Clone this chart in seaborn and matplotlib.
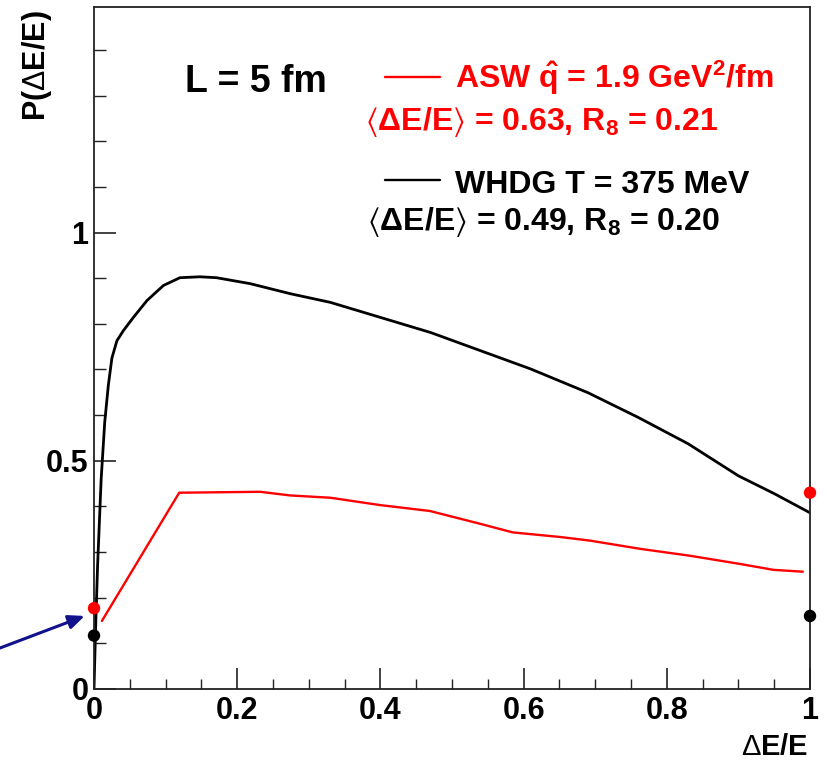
import matplotlib
matplotlib.use("Agg")
import matplotlib.pyplot as plt
import seaborn as sns
import pandas as pd
from matplotlib.ticker import MultipleLocator

# ---------------- data ----------------
whdg_x = [0.0, 0.002, 0.005, 0.01, 0.015, 0.02, 0.025, 0.032, 0.041, 0.055, 0.074,
          0.097, 0.12, 0.148, 0.171, 0.218, 0.274, 0.33, 0.40, 0.47, 0.54, 0.61,
          0.69, 0.76, 0.83, 0.90, 0.95, 1.0]
whdg_y = [0.0, 0.12, 0.27, 0.46, 0.585, 0.665, 0.725, 0.763, 0.785, 0.814, 0.851,
          0.884, 0.901, 0.903, 0.901, 0.888, 0.866, 0.847, 0.814, 0.781, 0.741, 0.701,
          0.649, 0.595, 0.537, 0.467, 0.428, 0.386]

asw_x = [0.011, 0.119, 0.232, 0.274, 0.330, 0.399, 0.469, 0.539, 0.585, 0.651,
         0.693, 0.763, 0.832, 0.902, 0.949, 0.990]
asw_y = [0.149, 0.430, 0.432, 0.424, 0.419, 0.403, 0.390, 0.362, 0.343, 0.333,
         0.325, 0.307, 0.292, 0.274, 0.261, 0.257]

dot_x = [0.0, 0.0, 1.0, 1.0]
dot_y = [0.177, 0.117, 0.430, 0.160]
dot_model = ["ASW", "WHDG", "ASW", "WHDG"]

x_ticks = [0, 0.2, 0.4, 0.6, 0.8, 1]
x_ticklabels = ["0", "0.2", "0.4", "0.6", "0.8", "1"]
y_ticks = [0, 0.5, 1]
y_ticklabels = ["0", "0.5", "1"]

colors = {"ASW": "#ff0000", "WHDG": "#000000"}

# ---------------- style ----------------
sns.set_theme(style="white")
plt.rcParams["font.family"] = ["Liberation Sans", "DejaVu Sans"]
plt.rcParams["text.color"] = "black"
plt.rcParams["mathtext.fontset"] = "custom"
plt.rcParams["mathtext.rm"] = "Liberation Sans:bold"
plt.rcParams["mathtext.it"] = "Liberation Sans:bold"
plt.rcParams["mathtext.bf"] = "Liberation Sans:bold"
plt.rcParams["mathtext.sf"] = "Liberation Sans"
plt.rcParams["mathtext.fallback"] = "stixsans"

fig = plt.figure(figsize=(8.27, 7.61), dpi=100)
ax = fig.add_axes([94 / 827, 1 - 689 / 761, 716 / 827, 682 / 761])

df_w = pd.DataFrame({"x": whdg_x, "y": whdg_y})
df_a = pd.DataFrame({"x": asw_x, "y": asw_y})
df_d = pd.DataFrame({"x": dot_x, "y": dot_y, "model": dot_model})

sns.lineplot(data=df_w, x="x", y="y", ax=ax, color="black", lw=2.0,
             sort=False, estimator=None)
sns.lineplot(data=df_a, x="x", y="y", ax=ax, color="#ff0000", lw=1.7,
             sort=False, estimator=None)
sns.scatterplot(data=df_d, x="x", y="y", hue="model", palette=colors, ax=ax,
                s=80, edgecolor="none", legend=False, zorder=5, clip_on=False)

ax.set_xlim(0, 1)
ax.set_ylim(0, 1.494)
ax.set_xticks(x_ticks)
ax.set_xticklabels(x_ticklabels)
ax.set_yticks(y_ticks)
ax.set_yticklabels(y_ticklabels)
ax.xaxis.set_minor_locator(MultipleLocator(0.05))
ax.yaxis.set_minor_locator(MultipleLocator(0.1))
ax.tick_params(axis="both", which="both", bottom=True, left=True, top=False,
               right=False)
ax.tick_params(axis="x", which="major", direction="in", length=15, width=1.2,
               labelsize=22, color="#222222", labelcolor="black", pad=5)
ax.tick_params(axis="y", which="major", direction="in", length=16, width=1.2,
               labelsize=22, color="#222222", labelcolor="black", pad=4)
ax.tick_params(axis="x", which="minor", direction="in", length=7.5, width=1.0,
               color="#222222")
ax.tick_params(axis="y", which="minor", direction="in", length=8.5, width=1.0,
               color="#222222")
for lab in ax.get_xticklabels() + ax.get_yticklabels():
    lab.set_fontweight("bold")
for sp in ax.spines.values():
    sp.set_color("#222222")
    sp.set_linewidth(1.3)

ax.set_xlabel("")
ax.set_ylabel("")
fig.text(808 / 827, 1 - 755 / 761, r"$\mathsf{\Delta}$E/E", ha="right", va="baseline",
         fontsize=21, fontweight="bold")
fig.text(37 / 827, 1 - 10 / 761, r"P($\mathsf{\Delta}$E/E)", ha="center", va="top",
         fontsize=22, fontweight="bold", rotation=90)

# annotations
ax.text(0.127, 0.875, "L = 5 fm", transform=ax.transAxes, fontsize=27,
        fontweight="bold", va="baseline", ha="left")
ax.plot([0.406, 0.483], [0.897, 0.897], transform=ax.transAxes, color="#ff0000", lw=1.7)
ax.text(0.504, 0.881, r"ASW $\hat{\mathrm{q}}$ = 1.9 GeV$^{2}$/fm", transform=ax.transAxes,
        fontsize=23, fontweight="bold", color="#ff0000", va="baseline", ha="left")
ax.text(0.378, 0.819, r"$\langle\Delta$E/E$\rangle$ = 0.63, R$_{8}$ = 0.21",
        transform=ax.transAxes, fontsize=23, fontweight="bold", color="#ff0000",
        va="baseline", ha="left")
ax.plot([0.406, 0.483], [0.746, 0.746], transform=ax.transAxes, color="black", lw=1.7)
ax.text(0.504, 0.728, "WHDG T = 375 MeV", transform=ax.transAxes,
        fontsize=23, fontweight="bold", color="black", va="baseline", ha="left")
ax.text(0.381, 0.673, r"$\langle\Delta$E/E$\rangle$ = 0.49, R$_{8}$ = 0.20",
        transform=ax.transAxes, fontsize=23, fontweight="bold", color="black",
        va="baseline", ha="left")

# arrow pointing at the x=0 points
ax.annotate("", xy=(-0.013, 0.16), xycoords="data",
            xytext=(0.0, 1 - 648 / 761), textcoords="figure fraction",
            arrowprops=dict(arrowstyle="-|>,head_length=0.8,head_width=0.35",
                            color="#12128c", lw=2.2, shrinkA=0, shrinkB=0),
            annotation_clip=False)

fig.savefig("out.png", dpi=100)
